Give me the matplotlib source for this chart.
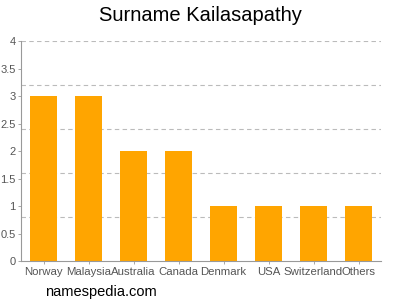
import matplotlib
matplotlib.use('Agg')
import matplotlib.pyplot as plt

countries = ['Norway', 'Malaysia', 'Australia', 'Canada', 'Denmark', 'USA', 'Switzerland', 'Others']
counts = [3, 3, 2, 2, 1, 1, 1, 1]
yticks = [0, 0.5, 1, 1.5, 2, 2.5, 3, 3.5, 4]
ylabels = ['0', '0.5', '1', '1.5', '2', '2.5', '3', '3.5', '4']
gridlines = [0.8, 1.6, 2.4, 3.2, 4.0]

plt.rcParams['font.family'] = ['Liberation Sans', 'DejaVu Sans']

fig = plt.figure(figsize=(4, 3), dpi=100)
ax = fig.add_axes([0.0525, 0.13, 0.9, 0.7333])

x = range(len(countries))
ax.bar(x, counts, width=0.62, color='#FFA500', zorder=2)

for g in gridlines:
    ax.axhline(g, color='#bbbbbb', linestyle=(0, (4, 3)), lw=0.8, zorder=1)

ax.set_xlim(-0.5, 7.5)
ax.set_ylim(0, 4)
ax.set_xticks(list(x))
ax.set_xticklabels(countries, fontsize=8.2, color='#555555')
ax.set_yticks(yticks)
ax.set_yticklabels(ylabels, fontsize=8, color='#555555')
ax.tick_params(axis='both', length=2.5, width=0.6, color='#999999', pad=1.5)

for s in ['top', 'right']:
    ax.spines[s].set_visible(False)
for s in ['left', 'bottom']:
    ax.spines[s].set_color('#999999')
    ax.spines[s].set_linewidth(0.8)

fig.text(0.5, 0.947, 'Surname Kailasapathy', ha='center', va='center', fontsize=14.5)
fig.text(0.1125, 0.027, 'namespedia.com', ha='left', va='center', fontsize=10.5)

fig.savefig('out.png', dpi=100)
